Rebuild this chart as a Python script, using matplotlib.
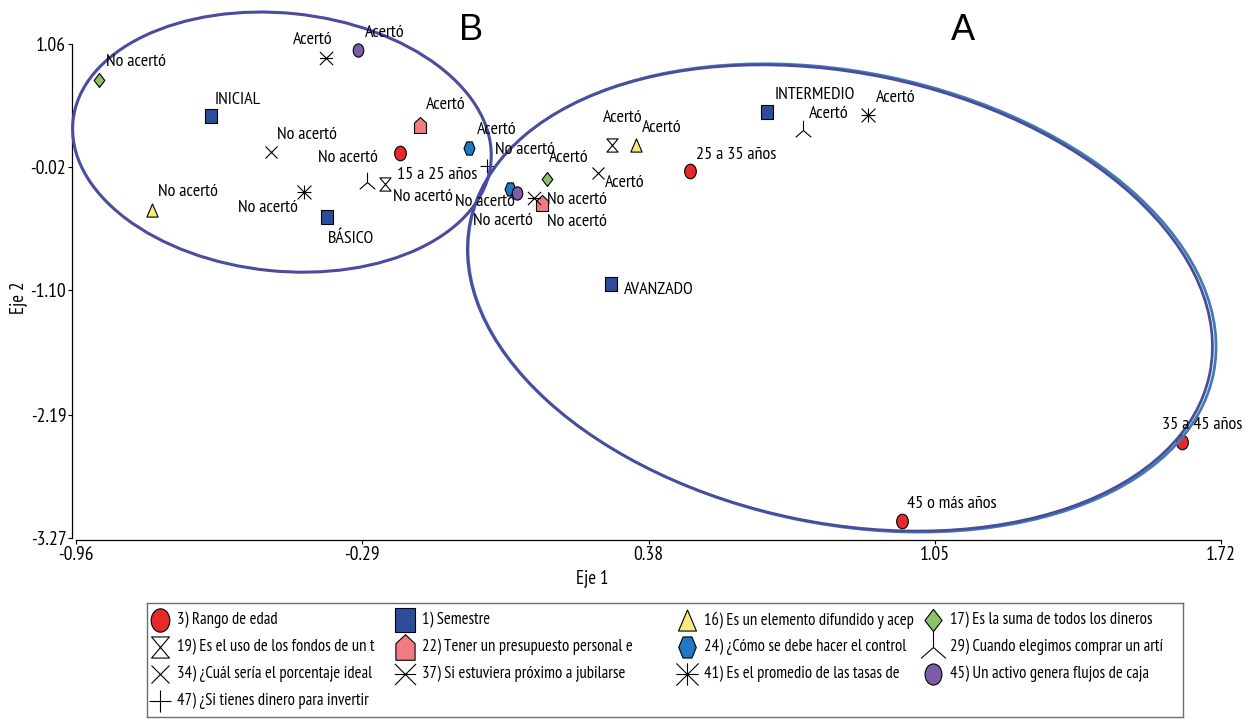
import matplotlib
matplotlib.use('Agg')
import matplotlib.pyplot as plt
from matplotlib.path import Path
from matplotlib.patches import Ellipse
from matplotlib.transforms import Affine2D, ScaledTranslation

plt.rcParams['font.family'] = ['PT Sans Narrow', 'Liberation Sans Narrow', 'DejaVu Sans']

# --- datos: coordenadas (Eje 1, Eje 2) de cada categoria ---
edad_cat = ['15 a 25 años', '25 a 35 años', '35 a 45 años', '45 o más años']
edad_x = [-0.202, 0.477, 1.629, 0.974]
edad_y = [0.105, -0.053, -2.428, -3.121]

sem_cat = ['INICIAL', 'BÁSICO', 'INTERMEDIO', 'AVANZADO']
sem_x = [-0.644, -0.372, 0.658, 0.292]
sem_y = [0.429, -0.456, 0.464, -1.043]

# preguntas: [Acertó, No acertó]
resp_cat = ['Acertó', 'No acertó']
p16_x = [0.351, -0.782]
p16_y = [0.175, -0.395]
p17_x = [0.143, -0.906]
p17_y = [-0.123, 0.744]
p19_x = [0.295, -0.237]
p19_y = [0.175, -0.167]
p22_x = [-0.155, 0.131]
p22_y = [0.350, -0.334]
p24_x = [-0.040, 0.056]
p24_y = [0.149, -0.211]
p29_x = [0.742, -0.279]
p29_y = [0.306, -0.149]
p34_x = [0.262, -0.504]
p34_y = [-0.071, 0.113]
p37_x = [-0.375, 0.112]
p37_y = [0.937, -0.290]
p41_x = [0.894, -0.426]
p41_y = [0.438, -0.237]
p45_x = [-0.300, 0.072]
p45_y = [1.007, -0.246]
p47_cat = ['No acertó']
p47_x = [0.002]
p47_y = [-0.009]

xticks = [-0.96, -0.29, 0.38, 1.05, 1.72]
yticks = [-3.27, -2.19, -1.10, -0.02, 1.06]

# desplazamiento de las etiquetas (pixeles)
off_edad = [(-3, -22), (6, 16), (-20, 17), (5, 17)]
off_sem = [(4, 16), (1, -22), (7, 17), (13, -6)]
off_16 = [(6, 17), (6, 18)]
off_17 = [(2, 21), (7, 18)]
off_19 = [(-9, 27), (8, -13)]
off_22 = [(6, 20), (5, -19)]
off_24 = [(8, 18), (-55, -13)]
off_29 = [(6, 16), (-49, 24)]
off_34 = [(7, -10), (6, 17)]
off_37 = [(-33, 18), (13, -2)]
off_41 = [(8, 17), (-66, -16)]
off_45 = [(7, 17), (-44, -28)]
off_47 = [(8, 16)]

# --- marcadores ---
M, L = Path.MOVETO, Path.LINETO
circ = Path.unit_circle().transformed(Affine2D().scale(0.8, 1.0))
square = Path([(-0.86, -1), (0.86, -1), (0.86, 1), (-0.86, 1), (-0.86, -1)], closed=True)
tri = Path([(0, 1), (-0.85, -1), (0.85, -1), (0, 1)], closed=True)
diam = Path([(0, 1), (0.77, 0), (0, -1), (-0.77, 0), (0, 1)], closed=True)
house = Path([(-0.75, -1), (0.75, -1), (0.75, 0.3), (0, 1), (-0.75, 0.3), (-0.75, -1)], closed=True)
hexa = Path([(-0.83, 0), (-0.42, 1), (0.42, 1), (0.83, 0), (0.42, -1), (-0.42, -1), (-0.83, 0)], closed=True)
hourg = Path([(-0.85, 1), (0.85, 1), (-0.85, -1), (0.85, -1), (-0.85, 1)], closed=True)
tri_up = Path([(0, 0), (0, 1), (0, 0), (-0.8, -0.7), (0, 0), (0.8, -0.7)], [M, L, M, L, M, L])
xbar = Path([(-1, -1), (1, 1), (-1, 1), (1, -1), (-1, 0), (1, 0)], [M, L, M, L, M, L])
aster = Path([(-1, -1), (1, 1), (-1, 1), (1, -1), (-1, 0), (1, 0), (0, -1), (0, 1)],
             [M, L, M, L, M, L, M, L])

series = [
    dict(x=edad_x, y=edad_y, cat=edad_cat, off=off_edad, m=circ, fc='#E42A2A', ms=10.5, leg='3) Rango de edad'),
    dict(x=sem_x, y=sem_y, cat=sem_cat, off=off_sem, m=square, fc='#2C4C9C', ms=10.5, leg='1) Semestre'),
    dict(x=p16_x, y=p16_y, cat=resp_cat, off=off_16, m=tri, fc='#F6EB7C', ms=9.5, leg='16) Es un elemento difundido y acep'),
    dict(x=p17_x, y=p17_y, cat=resp_cat, off=off_17, m=diam, fc='#8DC26A', ms=10, leg='17) Es la suma de todos los dineros'),
    dict(x=p19_x, y=p19_y, cat=resp_cat, off=off_19, m=hourg, fc='white', ms=9.5, leg='19) Es el uso de los fondos de un t'),
    dict(x=p22_x, y=p22_y, cat=resp_cat, off=off_22, m=house, fc='#F07C82', ms=11.5, leg='22) Tener un presupuesto personal e'),
    dict(x=p24_x, y=p24_y, cat=resp_cat, off=off_24, m=hexa, fc='#1F78C1', ms=9.5, leg='24) ¿Cómo se debe hacer el control'),
    dict(x=p29_x, y=p29_y, cat=resp_cat, off=off_29, m=tri_up, fc='none', ms=14, leg='29) Cuando elegimos comprar un artí'),
    dict(x=p34_x, y=p34_y, cat=resp_cat, off=off_34, m='x', fc='none', ms=8.5, leg='34) ¿Cuál sería el porcentaje ideal'),
    dict(x=p37_x, y=p37_y, cat=resp_cat, off=off_37, m=xbar, fc='none', ms=9.5, leg='37) Si estuviera próximo a jubilarse'),
    dict(x=p41_x, y=p41_y, cat=resp_cat, off=off_41, m=aster, fc='none', ms=10, leg='41) Es el promedio de las tasas de'),
    dict(x=p45_x, y=p45_y, cat=resp_cat, off=off_45, m=circ, fc='#7D5BA8', ms=9.5, leg='45) Un activo genera flujos de caja'),
    dict(x=p47_x, y=p47_y, cat=p47_cat, off=off_47, m='+', fc='none', ms=9.5, leg='47) ¿Si tienes dinero para invertir'),
]

fig = plt.figure(figsize=(12.52, 7.19), dpi=100, facecolor='w')
ax = fig.add_axes([76/1252, 1-538/719, 1145/1252, 494/719])
ax.set_xlim(xticks[0], xticks[-1])
ax.set_ylim(yticks[0], yticks[-1])

for s in series:
    ax.plot(s['x'], s['y'], ls='none', marker=s['m'], ms=s['ms'], mfc=s['fc'],
            mec='black', mew=0.8, zorder=3, clip_on=False)
    for xi, yi, t, (dx, dy) in zip(s['x'], s['y'], s['cat'], s['off']):
        ax.annotate(t, (xi, yi), xytext=(dx, dy), textcoords='offset pixels',
                    ha='left', va='center', fontsize=13, zorder=5,
                    annotation_clip=False)

# elipses de los grupos A y B (tamano en pixeles)
def grupo(cx, cy, w, h, ang, color, lw):
    tr = Affine2D() + ScaledTranslation(cx, cy, ax.transData)
    e = Ellipse((0, 0), w, h, angle=ang, transform=tr, fill=False,
                edgecolor=color, linewidth=lw, zorder=4, clip_on=False)
    ax.add_patch(e)

grupo(0.833, -1.166, 758, 452, -11.6, '#3F7DB0', 2.0)
grupo(0.828, -1.166, 755, 450, -11.6, '#4A4C9E', 2.0)
grupo(-0.478, 0.200, 420, 258, -5.8, '#4A4C9E', 2.2)

ax.spines['top'].set_visible(False)
ax.spines['right'].set_visible(False)
ax.spines['left'].set_position(('outward', 3))
ax.spines['bottom'].set_position(('outward', 1.5))
for sp in ['left', 'bottom']:
    ax.spines[sp].set_linewidth(0.9)
ax.set_xticks(xticks)
ax.set_xticklabels(['%.2f' % v for v in xticks])
ax.set_yticks(yticks)
ax.set_yticklabels(['%.2f' % v for v in yticks])
ax.tick_params(direction='out', length=3, width=0.8, labelsize=14, pad=1)

fig.text(592/1252, 1-578/719, 'Eje 1', ha='center', va='center', fontsize=13.5)
fig.text(18/1252, 1-298/719, 'Eje 2', ha='center', va='center', fontsize=13.5, rotation=90)
fig.text(471/1252, 1-31/719, 'B', ha='center', va='center', fontsize=26, family='Liberation Sans')
fig.text(963/1252, 1-31/719, 'A', ha='center', va='center', fontsize=26, family='Liberation Sans')

# leyenda (4 columnas)
lax = fig.add_axes([147/1252, 2/719, 1036/1252, 114/719])
lax.set_xlim(0, 1036)
lax.set_ylim(114, 0)
lax.set_xticks([])
lax.set_yticks([])
for sp in lax.spines.values():
    sp.set_color('#6d6d6d')
    sp.set_linewidth(1.0)
col_x = [13, 258, 540, 786]
row_y = [17, 44, 71, 98]
for i, s in enumerate(series):
    r, c = divmod(i, 4)
    lax.plot(col_x[c], row_y[r], ls='none', marker=s['m'], ms=s['ms']*1.6,
             mfc=s['fc'], mec='black', mew=0.8)
    lax.text(col_x[c] + 17, row_y[r], s['leg'], ha='left', va='center', fontsize=12)

fig.savefig('out.png', dpi=100)
